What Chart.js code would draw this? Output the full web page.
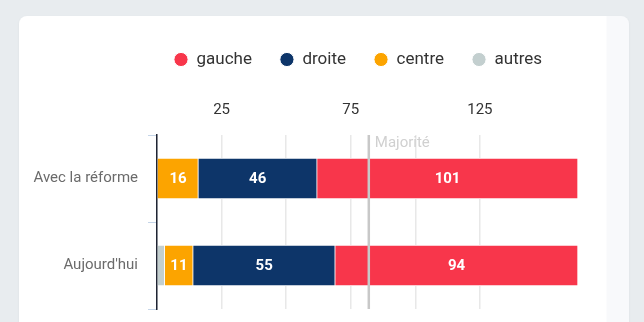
<!DOCTYPE html>
<html lang="fr">
<head>
<meta charset="utf-8">
<script src="https://cdn.jsdelivr.net/npm/chart.js@4.4.1/dist/chart.umd.min.js"></script>
<style>
  html, body { margin: 0; padding: 0; }
  body { width: 644px; height: 322px; background: #e8ecef; position: relative; overflow: hidden; }
  .card {
    position: absolute; left: 19px; top: 16px; width: 610px; height: 340px;
    border-radius: 8px; box-shadow: 0 1px 3px rgba(0, 0, 0, 0.05);
    background: linear-gradient(to right, #ffffff 0, #ffffff 587px, #f8f9fb 588px);
  }
  #chart { position: absolute; left: 0; top: 0; }
</style>
</head>
<body>
<div class="card"></div>
<canvas id="chart" width="644" height="322"></canvas>
<script>
// ----- Données : répartition des sièges -----
var categories = ["Avec la réforme", "Aujourd'hui"];
var gauche = [101, 94];
var droite = [46, 55];
var centre = [16, 11];
var autres = [0, 3];
var xTicksShown = [25, 75, 125];
var TOTAL_SIEGES = 163;
var MAJORITE = 82;

var FONT = "Roboto, 'Liberation Sans', sans-serif";

// Chiffres blancs au centre des barres + ligne de majorité
var barLabels = {
  id: "barLabels",
  afterLayout: function(chart) {
    // légende décalée pour commencer au-dessus de l'axe
    chart.legend.left = 146;
  },
  afterDatasetsDraw: function(chart) {
    var ctx = chart.ctx;
    ctx.save();
    ctx.font = "bold 15px " + FONT;
    ctx.fillStyle = "#ffffff";
    ctx.textAlign = "center";
    ctx.textBaseline = "middle";
    chart.data.datasets.forEach(function(ds, i) {
      var meta = chart.getDatasetMeta(i);
      meta.data.forEach(function(bar, j) {
        var v = ds.data[j];
        if (!v || v < 5) return;
        ctx.fillText(String(v), (bar.x + bar.base) / 2, bar.y + 1);
      });
    });

    var area = chart.chartArea;
    var x = chart.scales.x.getPixelForValue(MAJORITE);
    ctx.strokeStyle = "#c8c8c8";
    ctx.lineWidth = 2.5;
    ctx.beginPath();
    ctx.moveTo(x, area.top);
    ctx.lineTo(x, area.bottom);
    ctx.stroke();

    ctx.font = "15px " + FONT;
    ctx.fillStyle = "#d0d0d0";
    ctx.textAlign = "left";
    ctx.textBaseline = "top";
    ctx.fillText("Majorité", x + 6, area.top + 1);
    ctx.restore();
  }
};

var ctx = document.getElementById("chart").getContext("2d");
new Chart(ctx, {
  type: "bar",
  data: {
    labels: categories,
    datasets: [
      { label: "autres", data: autres, backgroundColor: "#c3cfcf" },
      { label: "centre", data: centre, backgroundColor: "#fca400" },
      { label: "droite", data: droite, backgroundColor: "#0d3569" },
      { label: "gauche", data: gauche, backgroundColor: "#f8364b" }
    ]
  },
  options: {
    indexAxis: "y",
    responsive: false,
    animation: false,
    datasets: {
      bar: { barThickness: 41, borderWidth: 1, borderColor: "#ffffff" }
    },
    layout: { padding: { top: 23, right: 66, bottom: 13, left: 0 } },
    plugins: {
      tooltip: { enabled: false },
      legend: {
        position: "top",
        align: "start",
        reverse: true,
        labels: {
          usePointStyle: true,
          pointStyle: "circle",
          boxWidth: 14,
          boxHeight: 10,
          padding: 28,
          color: "#333333",
          font: { family: FONT, size: 17 }
        }
      }
    },
    scales: {
      x: {
        position: "top",
        stacked: true,
        min: 0,
        max: TOTAL_SIEGES,
        border: { display: false },
        grid: {
          drawTicks: false,
          lineWidth: 1.5,
          color: function(c) {
            return c.tick && c.tick.value % 25 === 0 ? "#e8e8e8" : "rgba(0,0,0,0)";
          }
        },
        ticks: {
          stepSize: 25,
          padding: 16,
          autoSkip: false,
          maxRotation: 0,
          color: "#333333",
          font: { family: FONT, size: 15 },
          callback: function(v) {
            return xTicksShown.indexOf(v) >= 0 ? String(v) : "";
          }
        },
        afterFit: function(scale) { scale.height = 57; }
      },
      y: {
        stacked: true,
        border: { display: true, color: "#1f2433", width: 1.5 },
        grid: { drawOnChartArea: false, tickLength: 9, color: "#c5d5e8", offset: true },
        ticks: { padding: 10, color: "#6b6b6b", font: { family: FONT, size: 15 } },
        afterFit: function(scale) {
          scale.width = 157;
          scale.paddingTop = 0;
          scale.paddingBottom = 0;
        }
      }
    }
  },
  plugins: [barLabels]
});
</script>
</body>
</html>
